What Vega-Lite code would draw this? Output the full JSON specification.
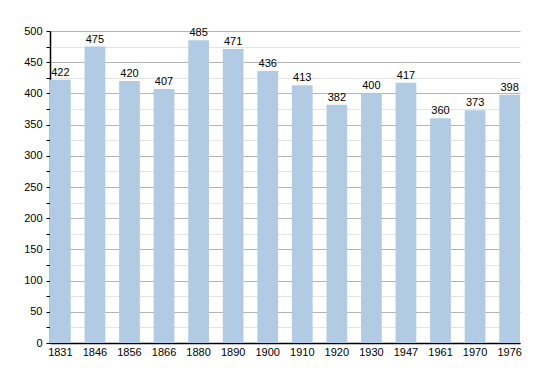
{
  "$schema": "https://vega.github.io/schema/vega-lite/v6.json",
  "width": 470,
  "height": 312,
  "autosize": {"type": "none"},
  "padding": {"left": 50, "top": 31, "right": 30, "bottom": 30},
  "background": "white",
  "config": {
    "view": {"stroke": null},
    "font": "Liberation Sans",
    "axis": {"labelFont": "Liberation Sans", "labelFontSize": 11, "labelColor": "#000", "domainColor": "#000", "tickColor": "#000"}
  },
  "data": {
    "values": [
      {"year": "1831", "pop": 422},
      {"year": "1846", "pop": 475},
      {"year": "1856", "pop": 420},
      {"year": "1866", "pop": 407},
      {"year": "1880", "pop": 485},
      {"year": "1890", "pop": 471},
      {"year": "1900", "pop": 436},
      {"year": "1910", "pop": 413},
      {"year": "1920", "pop": 382},
      {"year": "1930", "pop": 400},
      {"year": "1947", "pop": 417},
      {"year": "1961", "pop": 360},
      {"year": "1970", "pop": 373},
      {"year": "1976", "pop": 398}
    ]
  },
  "encoding": {
    "x": {
      "field": "year", "type": "nominal", "sort": null,
      "scale": {"paddingInner": 0.4, "paddingOuter": 0},
      "axis": {"title": null, "labelAngle": 0, "ticks": false, "labelPadding": 3, "domainWidth": 1.5}
    },
    "y": {
      "field": "pop", "type": "quantitative",
      "scale": {"domain": [0, 500], "nice": false},
      "axis": {
        "title": null,
        "values": [0, 25, 50, 75, 100, 125, 150, 175, 200, 225, 250, 275, 300, 325, 350, 375, 400, 425, 450, 475, 500],
        "labelExpr": "datum.value % 50 === 0 ? datum.label : ''",
        "grid": true,
        "gridColor": {"condition": {"test": "datum.value % 50 === 0", "value": "#b4b4b4"}, "value": "#e4e4e4"},
        "tickSize": 4,
        "labelPadding": 4,
        "domainWidth": 1.5
      }
    }
  },
  "layer": [
    {"mark": {"type": "bar", "color": "#b1cbe4"}},
    {
      "mark": {"type": "text", "dy": -7, "fontSize": 11, "color": "#000", "font": "Liberation Sans"},
      "encoding": {"text": {"field": "pop", "type": "quantitative"}}
    }
  ]
}
